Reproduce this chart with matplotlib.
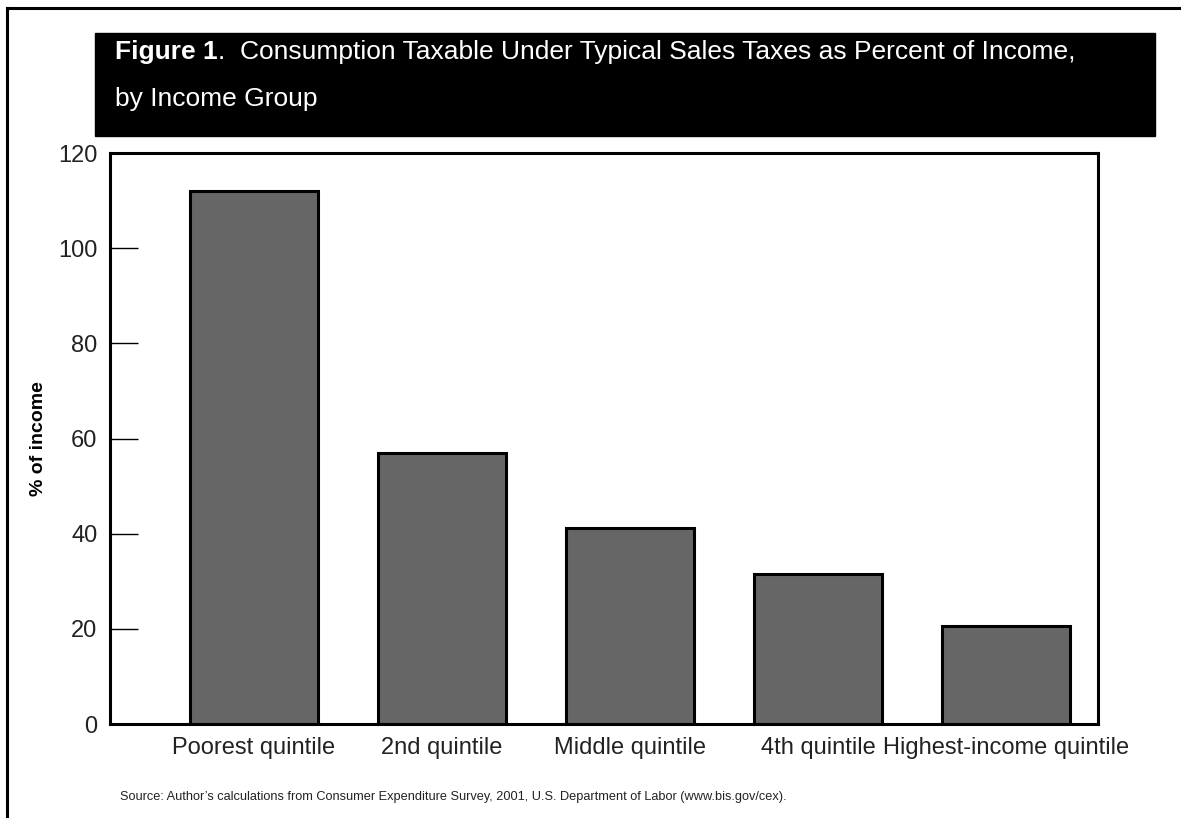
import matplotlib
matplotlib.use("Agg")
import matplotlib.pyplot as plt
from matplotlib.patches import Rectangle
from matplotlib.lines import Line2D

groups = ["Poorest quintile", "2nd quintile", "Middle quintile",
          "4th quintile", "Highest-income quintile"]
pct_income = [112, 57, 41.3, 31.6, 20.5]
y_ticks = [0, 20, 40, 60, 80, 100, 120]

plt.rcParams["font.family"] = ["Liberation Sans", "DejaVu Sans"]

fig = plt.figure(figsize=(11.81, 8.18), dpi=100)
ax = fig.add_axes([0.0931, 0.1149, 0.8366, 0.698])

xs = range(len(groups))
ax.bar(xs, pct_income, width=0.68, color="#666666", edgecolor="black", linewidth=2.2)

ax.set_xlim(-0.766, 4.489)
ax.set_ylim(0, 120)
ax.set_yticks(y_ticks)
ax.set_xticks(list(xs))
ax.set_xticklabels(groups, fontsize=17, color="#222222")
ax.tick_params(axis="x", length=0, pad=9)
ax.tick_params(axis="y", direction="in", length=20, width=1, pad=9,
               labelsize=17, labelcolor="#222222")
for s in ax.spines.values():
    s.set_linewidth(2.2)
ax.set_ylabel("% of income", fontsize=14, fontweight="bold")
ax.yaxis.set_label_coords(-0.064, 0.5)

# outer frame (left and top edges only)
fig.add_artist(Line2D([0.0059, 0.0059], [0, 0.990], color="black", lw=2.2,
                      transform=fig.transFigure))
fig.add_artist(Line2D([0.0059, 1], [0.990, 0.990], color="black", lw=2.2,
                      transform=fig.transFigure))

# black title banner
fig.patches.append(Rectangle((0.0804, 0.8337), 0.8976, 0.1259, color="black",
                             transform=fig.transFigure, zorder=0))
t1 = fig.text(0.0974, 0.928, "Figure 1", fontsize=19, fontweight="bold",
              color="white", va="baseline")
fig.canvas.draw()
bb = t1.get_window_extent().transformed(fig.transFigure.inverted())
fig.text(bb.x1, 0.928,
         ".  Consumption Taxable Under Typical Sales Taxes as Percent of Income,",
         fontsize=19, color="white", va="baseline")
fig.text(0.0974, 0.870, "by Income Group", fontsize=19, color="white", va="baseline")

fig.text(0.1016, 0.022,
         "Source: Author\u2019s calculations from Consumer Expenditure Survey, 2001, "
         "U.S. Department of Labor (www.bis.gov/cex).",
         fontsize=9.2, color="#222222", va="baseline")

fig.savefig("out.png", dpi=100)
